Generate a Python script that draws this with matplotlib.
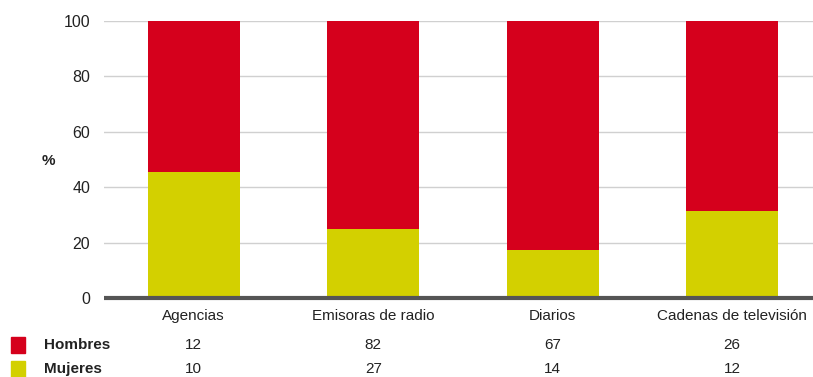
import matplotlib
matplotlib.use("Agg")
import matplotlib.pyplot as plt
import numpy as np

plt.rcParams["font.family"] = ["Liberation Sans", "DejaVu Sans"]

categories = ["Agencias", "Emisoras de radio", "Diarios", "Cadenas de televisión"]
hombres = [12, 82, 67, 26]
mujeres = [10, 27, 14, 12]
yticks = [0, 20, 40, 60, 80, 100]

COLOR_H = "#D5001C"
COLOR_M = "#D3D000"

W, H = 813, 377
fig = plt.figure(figsize=(W / 100, H / 100), dpi=100)
ax = fig.add_axes([104 / W, 1 - 298 / H, (W - 104) / W, (298 - 21) / H])

h = np.array(hombres, dtype=float)
m = np.array(mujeres, dtype=float)
total = h + m
pct_m = m / total * 100
pct_h = h / total * 100
x = np.arange(len(categories))

ax.bar(x, pct_m, width=0.51, color=COLOR_M, zorder=2)
ax.bar(x, pct_h, width=0.51, bottom=pct_m, color=COLOR_H, zorder=2)

ax.set_xlim(-0.5, 3.45)
ax.set_ylim(0, 100)
ax.set_yticks(yticks)
ax.set_yticklabels([str(t) for t in yticks], fontsize=11.5, color="#222222")
ax.tick_params(axis="y", length=0, pad=10)
ax.tick_params(axis="x", length=0, pad=8)
ax.set_xticks(x)
ax.set_xticklabels(categories, fontsize=11, color="#222222")
ax.grid(axis="y", color="#d0d0d0", linewidth=1.0, zorder=0)
for s in ["top", "right", "left"]:
    ax.spines[s].set_visible(False)
ax.spines["bottom"].set_color("#555555")
ax.spines["bottom"].set_linewidth(3)
ax.spines["bottom"].set_zorder(3)
ax.spines["bottom"].set_capstyle("butt")

fig.text(48 / W, 1 - 161 / H, "%", fontsize=11, fontweight="bold",
         ha="center", va="center", color="#222222")

# Value table under the axis
rows = [("Hombres", COLOR_H, hombres, 345), ("Mujeres", COLOR_M, mujeres, 369)]
for label, color, vals, ypix in rows:
    yf = 1 - ypix / H
    fig.patches.append(plt.Rectangle((11 / W, yf - 8 / H), 14 / W, 16 / H,
                                     transform=fig.transFigure, color=color))
    fig.text(44 / W, yf, label, fontsize=11, fontweight="bold",
             ha="left", va="center", color="#222222")
    for xi, v in zip(x, vals):
        xf = ax.transData.transform((xi, 0))[0] / W
        fig.text(xf, yf, str(v), fontsize=11, ha="center", va="center",
                 color="#222222")

fig.savefig("out.png", dpi=100)
